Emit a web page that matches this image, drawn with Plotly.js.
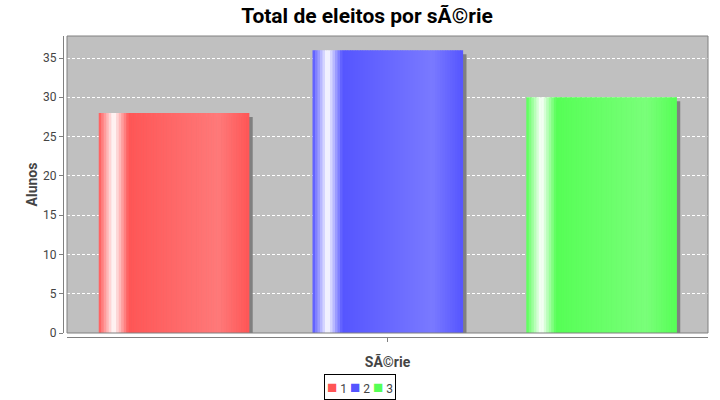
<!DOCTYPE html>
<html>
<head>
<meta charset="utf-8">
<script src="https://cdn.plot.ly/plotly-3.0.1.min.js"></script>
<style>html,body{margin:0;padding:0;background:#fff;}#chart{width:720px;height:400px;}</style>
</head>
<body>
<div id="chart"></div>
<script>
// ---- data ----
const category = ["Série"];
const seriesNames = ["1", "2", "3"];
const seriesValues = [28, 36, 30];
const seriesColors = ["#FF5555", "#5555FF", "#55FF55"];
const yTickVals = [0, 5, 10, 15, 20, 25, 30, 35];

// ---- geometry (layout) ----
const W = 720, H = 400;
const mL = 63, mR = 12, mT = 36, mB = 63;
const axisGap = 4;                       // axis offset from plot area (px)
const areaW = W - mL - mR, areaH = H - mT - mB;
const plotW = areaW - axisGap;           // 641
const plotH = areaH - axisGap;           // 297
const yMax = 37.8;
const pxX = 1 / plotW;                   // category units per px
const pxY = yMax / plotH;                // value units per px
const barW = 0.234;
const barStep = 0.3335;
const K = 60;

function hex2rgb(h){return [parseInt(h.substr(1,2),16),parseInt(h.substr(3,2),16),parseInt(h.substr(5,2),16)];}
function brighter(c){return c.map(v=>Math.min(255,Math.round(v/0.7)));}
function lerp(a,b,t){return a.map((v,i)=>Math.round(v+(b[i]-v)*t));}
function gradColor(base,t){
  const c0=hex2rgb(base), c1=brighter(c0), w=[255,255,255];
  let c;
  if(t<0.1) c=lerp(c0,w,t/0.1);
  else if(t<0.2) c=lerp(w,c0,(t-0.1)/0.1);
  else if(t<0.8) c=lerp(c0,c1,(t-0.2)/0.6);
  else c=lerp(c1,c0,(t-0.8)/0.2);
  return 'rgb('+c.join(',')+')';
}

const traces = [];
// shadows
traces.push({
  type:'bar', x: seriesValues.map(()=>category[0]),
  y: seriesValues.map(v=>v - 4*pxY),
  offset: seriesValues.map((v,i)=>(i-1)*barStep - barW/2 + 4*pxX),
  width: seriesValues.map(()=>barW),
  marker:{color:'#808080', line:{width:0}},
  showlegend:false, hoverinfo:'skip'
});
// gradient slices
for(let k=0;k<K;k++){
  const t=(k+0.5)/K;
  traces.push({
    type:'bar', x: seriesValues.map(()=>category[0]),
    y: seriesValues.slice(),
    offset: seriesValues.map((v,i)=>(i-1)*barStep - barW/2 + k*barW/K),
    width: seriesValues.map(()=>barW/K*1.25),
    marker:{color: seriesColors.map(c=>gradColor(c,t)), line:{width:0}},
    name: 'slice', showlegend:false, hoverinfo:'skip'
  });
}

const legendText = seriesNames.map((n,i)=>'<span style="color:'+seriesColors[i]+';font-size:17px">■</span> '+n).join(' ');

const layout = {
  width: W, height: H,
  margin:{l:mL, r:mR, t:mT, b:mB, pad:0},
  paper_bgcolor:'#FFFFFF',
  plot_bgcolor:'#C0C0C0',
  barmode:'overlay',
  showlegend:false,
  font:{family:'Roboto, sans-serif', color:'#444444', size:12},
  title:{text:'Total de eleitos por sÃ©rie', font:{family:'Roboto, sans-serif', size:21, color:'#000000', weight:'bold'},
         x:367/720, xref:'container', xanchor:'center', y:1-16/400, yref:'container', yanchor:'middle'},
  xaxis:{
    type:'category', domain:[axisGap/areaW,1], range:[-0.5,0.5],
    anchor:'free', position:0,
    showgrid:false, zeroline:false, showticklabels:false,
    ticks:'outside', ticklen:4, tickcolor:'#808080',
    showline:true, linecolor:'#808080', linewidth:1,
    title:{text:'SÃ©rie', font:{family:'Roboto, sans-serif', size:14, color:'#444444', weight:'bold'}, standoff:16},
    fixedrange:true
  },
  yaxis:{
    domain:[axisGap/areaH,1], range:[0,yMax],
    anchor:'free', position:0,
    tickvals:yTickVals, ticks:'outside', ticklen:4, tickcolor:'#808080',
    tickfont:{family:'Roboto, sans-serif', size:12, color:'#444444'},
    showline:true, linecolor:'#808080', linewidth:1,
    showgrid:true, gridcolor:'#FFFFFF', gridwidth:1, griddash:'3px,2px',
    zeroline:false,
    title:{text:'Alunos', font:{family:'Roboto, sans-serif', size:14, color:'#444444', weight:'bold'}, standoff:1},
    fixedrange:true
  },
  shapes:[{type:'rect', xref:'x domain', yref:'y domain', x0:0, x1:1, y0:0, y1:1,
           line:{color:'#808080', width:1}, fillcolor:'rgba(0,0,0,0)', layer:'above'}],
  annotations:[{
    text: legendText, xref:'paper', yref:'paper', x:(360-mL)/areaW, y:(H-mB-387)/areaH,
    xanchor:'center', yanchor:'middle', showarrow:false,
    font:{family:'Roboto, sans-serif', size:12, color:'#444444'},
    bordercolor:'#000000', borderwidth:1, borderpad:2, bgcolor:'#FFFFFF'
  }]
};

Plotly.newPlot('chart', traces, layout, {staticPlot:true, displayModeBar:false});
</script>
</body>
</html>
